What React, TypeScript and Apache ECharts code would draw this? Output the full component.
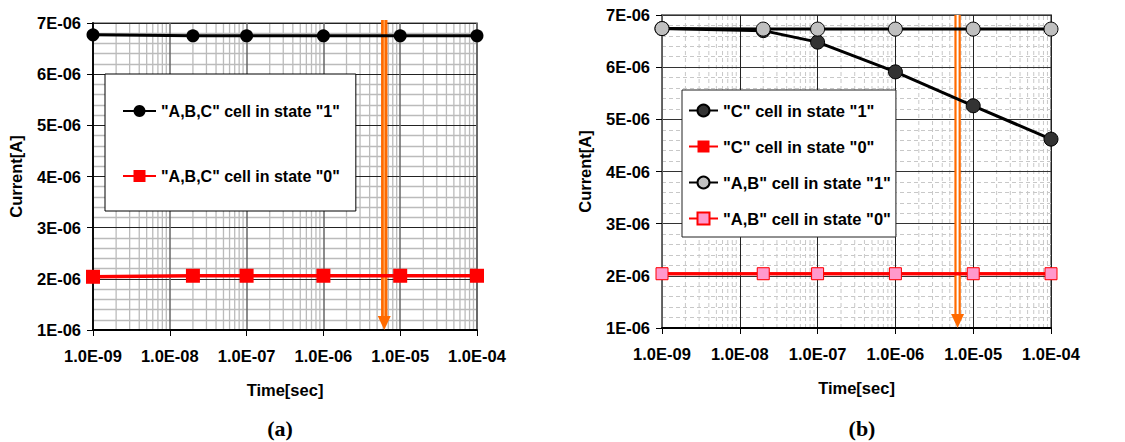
import React, { useEffect, useRef } from "react";
import * as echarts from "echarts";

// ---- data ----
const timePoints = [1e-9, 2e-8, 1e-7, 1e-6, 1e-5, 1e-4];

// (a)
const abcState1 = [6.77e-6, 6.75e-6, 6.75e-6, 6.75e-6, 6.75e-6, 6.75e-6];
const abcState0 = [2.04e-6, 2.06e-6, 2.06e-6, 2.06e-6, 2.06e-6, 2.06e-6];
const arrowTimeA = 6.2e-6;

// (b)
const cState1 = [6.74e-6, 6.7e-6, 6.48e-6, 5.91e-6, 5.26e-6, 4.62e-6];
const cState0 = [2.04e-6, 2.04e-6, 2.04e-6, 2.04e-6, 2.04e-6, 2.04e-6];
const abState1 = [6.74e-6, 6.73e-6, 6.73e-6, 6.73e-6, 6.73e-6, 6.73e-6];
const abState0 = [2.04e-6, 2.04e-6, 2.04e-6, 2.04e-6, 2.04e-6, 2.04e-6];
const arrowTimeB = 6.3e-6;

// axes
const xMin = 1e-9;
const xMax = 1e-4;
const yMin = 1e-6;
const yMax = 7e-6;
const yStep = 1e-6;
const decadeExponents = [-9, -8, -7, -6, -5];
const minorMultipliers = [2, 3, 4, 5, 6, 7, 8, 9];

const namesA = ['"A,B,C" cell in state "1"', '"A,B,C" cell in state "0"'];
const namesB = [
  '"C" cell in state "1"',
  '"C" cell in state "0"',
  '"A,B" cell in state "1"',
  '"A,B" cell in state "0"',
];

const FONT = "Liberation Sans";

const fmtX = (v: number) => {
  const e = Math.round(Math.log10(v));
  return `1.0E-${String(-e).padStart(2, "0")}`;
};
const fmtY = (v: number) => `${Math.round(v * 1e6)}E-06`;

const zip = (ys: number[]) => timePoints.map((t, i) => [t, ys[i]]);

const minorXs: number[] = [];
decadeExponents.forEach((e) =>
  minorMultipliers.forEach((m) => minorXs.push(m * Math.pow(10, e)))
);

const labelStyle = {
  fontFamily: FONT,
  fontWeight: "bold" as const,
  fontSize: 16.5,
  color: "#000",
};

function makeXAxis(gridIndex: number, majorStyle: any) {
  return {
    type: "log",
    gridIndex,
    logBase: 10,
    min: xMin,
    max: xMax,
    z: 1,
    axisLine: { show: true, onZero: false, lineStyle: { color: "#000", width: 1.8 } },
    axisTick: { show: true, length: 6, lineStyle: { color: "#000", width: 1 } },
    axisLabel: { ...labelStyle, formatter: fmtX, margin: 17 },
    splitLine: { show: true, lineStyle: majorStyle },
    minorTick: { show: false },
    minorSplitLine: { show: false },
    name: "Time[sec]",
    nameLocation: "middle",
    nameGap: 51,
    nameTextStyle: { ...labelStyle },
  };
}

function makeYAxis(gridIndex: number, axisColor: string, majorStyle: any, minorStyle: any) {
  return {
    type: "value",
    gridIndex,
    min: yMin,
    max: yMax,
    interval: yStep,
    z: 1,
    axisLine: { show: true, onZero: false, lineStyle: { color: axisColor, width: 1.8 } },
    axisTick: { show: true, length: 6, lineStyle: { color: "#000", width: 1 } },
    axisLabel: { ...labelStyle, formatter: fmtY, margin: 12 },
    splitLine: { show: true, lineStyle: majorStyle },
    minorTick: { show: false, splitNumber: 5 },
    minorSplitLine: { show: true, lineStyle: minorStyle },
    name: "Current[A]",
    nameLocation: "middle",
    nameGap: 69,
    nameTextStyle: { ...labelStyle },
  };
}

function minorGridSeries(idx: number, style: any) {
  return {
    type: "custom",
    xAxisIndex: idx,
    yAxisIndex: idx,
    z: 0,
    silent: true,
    data: minorXs.map((x) => [x, yMin]),
    encode: { x: 0, y: 1 },
    renderItem: (_p: any, api: any) => {
      const x = api.value(0);
      const p1 = api.coord([x, yMin]);
      const p2 = api.coord([x, yMax]);
      return {
        type: "line",
        shape: { x1: p1[0], y1: p1[1], x2: p2[0], y2: p2[1] },
        style,
      };
    },
  };
}

function arrowSeries(idx: number, t: number, inner: string, innerWidth: number, extraTop: number) {
  return {
    type: "custom",
    xAxisIndex: idx,
    yAxisIndex: idx,
    z: 3,
    silent: true,
    data: [[t, yMax]],
    encode: { x: 0, y: 1 },
    renderItem: (_p: any, api: any) => {
      const x = api.value(0);
      const top = api.coord([x, yMax]);
      const bot = api.coord([x, yMin]);
      const cx = top[0];
      const ty = top[1] - extraTop;
      const by = bot[1];
      const headH = 14;
      const headW = 13;
      return {
        type: "group",
        children: [
          {
            type: "rect",
            shape: { x: cx - 3.2, y: ty, width: 6.4, height: by - headH - ty + 1 },
            style: { fill: "#ff6a00" },
          },
          {
            type: "line",
            shape: { x1: cx, y1: ty, x2: cx, y2: by - headH },
            style: { stroke: inner, lineWidth: innerWidth },
          },
          {
            type: "polygon",
            shape: {
              points: [
                [cx - headW / 2, by - headH],
                [cx + headW / 2, by - headH],
                [cx, by],
              ],
            },
            style: { fill: "#ff6a00" },
          },
        ],
      };
    },
  };
}

export default function App() {
  const ref = useRef<HTMLDivElement>(null);

  useEffect(() => {
    if (!ref.current) return;
    const chart = echarts.init(ref.current, undefined, { renderer: "svg" });

    const option: any = {
      animation: false,
      backgroundColor: "#fff",
      grid: [
        {
          left: 93,
          top: 23,
          width: 384,
          height: 307,
          show: true,
          borderColor: "#808080",
          borderWidth: 1.5,
          backgroundColor: "transparent",
        },
        {
          left: 662,
          top: 15,
          width: 389,
          height: 313,
          show: true,
          borderColor: "#808080",
          borderWidth: 1.8,
          backgroundColor: "transparent",
        },
      ],
      xAxis: [
        makeXAxis(0, { color: "#666", width: 1.5 }),
        makeXAxis(1, { color: "#222", width: 1 }),
      ],
      yAxis: [
        makeYAxis(0, "#000", { color: "#222", width: 1 }, { color: "#bbbbbb", width: 1.3 }),
        makeYAxis(1, "#666", { color: "#333", width: 1 }, { color: "#c8c8c8", width: 1, type: [4, 3] }),
      ],
      legend: [
        {
          data: namesA,
          left: 105,
          top: 74,
          orient: "vertical",
          padding: [29, 16, 27, 17],
          itemGap: 49,
          itemWidth: 33,
          itemHeight: 15,
          backgroundColor: "#fff",
          borderColor: "#000",
          borderWidth: 1,
          textStyle: { ...labelStyle, fontSize: 16 },
          selectedMode: false,
        },
        {
          data: namesB,
          left: 682,
          top: 90,
          orient: "vertical",
          padding: [12, 5, 10, 6],
          itemGap: 19,
          itemWidth: 29,
          itemHeight: 15,
          backgroundColor: "#fff",
          borderColor: "#222",
          borderWidth: 1,
          textStyle: { ...labelStyle, fontSize: 16.5 },
          selectedMode: false,
        },
      ],
      graphic: [
        {
          type: "text",
          x: 280,
          y: 428,
          style: {
            text: "(a)",
            font: 'bold 22px "Liberation Serif"',
            fill: "#000",
            textAlign: "center",
            textVerticalAlign: "middle",
          },
        },
        {
          type: "text",
          x: 862,
          y: 428,
          style: {
            text: "(b)",
            font: 'bold 22px "Liberation Serif"',
            fill: "#000",
            textAlign: "center",
            textVerticalAlign: "middle",
          },
        },
      ],
      series: [
        minorGridSeries(0, { stroke: "#bbbbbb", lineWidth: 1.3 }),
        minorGridSeries(1, { stroke: "#c8c8c8", lineWidth: 1, lineDash: [4, 3] }),
        {
          name: namesA[0],
          type: "line",
          xAxisIndex: 0,
          yAxisIndex: 0,
          data: zip(abcState1),
          symbol: "circle",
          symbolSize: 13,
          lineStyle: { color: "#000", width: 3 },
          itemStyle: { color: "#000" },
        },
        {
          name: namesA[1],
          type: "line",
          xAxisIndex: 0,
          yAxisIndex: 0,
          data: zip(abcState0),
          symbol: "rect",
          symbolSize: 14,
          lineStyle: { color: "#ff0000", width: 3.5 },
          itemStyle: { color: "#ff0000" },
        },
        {
          name: namesB[0],
          type: "line",
          xAxisIndex: 1,
          yAxisIndex: 1,
          data: zip(cState1),
          symbol: "circle",
          symbolSize: 14,
          lineStyle: { color: "#000", width: 3 },
          itemStyle: { color: "#333", borderColor: "#000", borderWidth: 1 },
        },
        {
          name: namesB[1],
          type: "line",
          xAxisIndex: 1,
          yAxisIndex: 1,
          data: zip(cState0),
          symbol: "rect",
          symbolSize: 12,
          lineStyle: { color: "#ff0000", width: 3 },
          itemStyle: { color: "#ff0000" },
        },
        {
          name: namesB[2],
          type: "line",
          xAxisIndex: 1,
          yAxisIndex: 1,
          data: zip(abState1),
          symbol: "circle",
          symbolSize: 14,
          lineStyle: { color: "#000", width: 3 },
          itemStyle: { color: "#c0c0c0", borderColor: "#000", borderWidth: 1 },
        },
        {
          name: namesB[3],
          type: "line",
          xAxisIndex: 1,
          yAxisIndex: 1,
          data: zip(abState0),
          symbol: "rect",
          symbolSize: 12,
          lineStyle: { color: "#ff0000", width: 3 },
          itemStyle: { color: "#ff99cc", borderColor: "#ff0000", borderWidth: 1 },
        },
        arrowSeries(0, arrowTimeA, "#ffa050", 1.5, 3),
        arrowSeries(1, arrowTimeB, "#ffffff", 2, 0),
      ],
    };

    chart.setOption(option);
    return () => chart.dispose();
  }, []);

  return (
    <div
      ref={ref}
      style={{ position: "fixed", left: 0, top: 0, width: 1125, height: 442 }}
    />
  );
}
